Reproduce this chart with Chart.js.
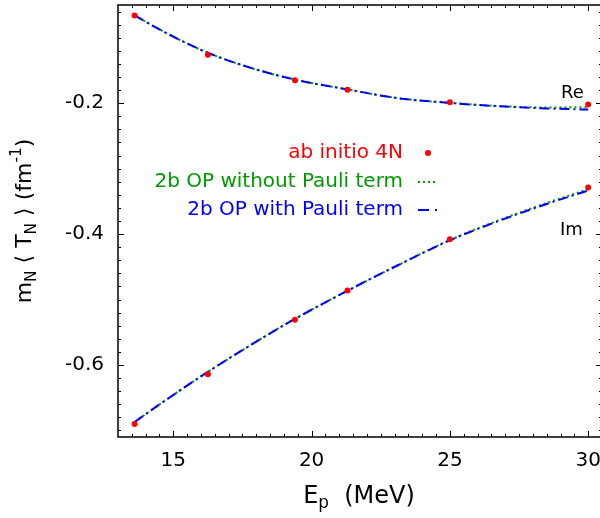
<!DOCTYPE html>
<html>
<head>
<meta charset="utf-8">
<script src="https://cdn.jsdelivr.net/npm/chart.js@4/dist/chart.umd.min.js"></script>
<style>
  html, body { margin: 0; padding: 0; background: #fff; overflow: hidden; width: 600px; height: 518px; }
  canvas { display: block; }
</style>
</head>
<body>
<canvas id="c" width="606" height="518"></canvas>
<script>
// ab initio 4N results: proton energy (MeV) and m_N <T_N> (fm^-1)
const energies   = [13.6, 16.25, 19.4, 21.3, 25.0, 30.0];
const reAbInitio = [-0.066, -0.126, -0.165, -0.1795, -0.1985, -0.202];
const imAbInitio = [-0.690, -0.614, -0.531, -0.486, -0.408, -0.329];

// two-body optical potential curves
const curveEnergies = [13.6, 14.8, 16.25, 17.8, 19.4, 21.3, 23.1, 25.0, 26.7, 28.5, 30.0];
const reNoPauli     = [-0.066, -0.094, -0.123, -0.146, -0.164, -0.179, -0.1922, -0.1995, -0.2042, -0.2066, -0.2060];
const reWithPauli   = [-0.066, -0.094, -0.123, -0.146, -0.164, -0.179, -0.1922, -0.1996, -0.2046, -0.2080, -0.2098];
const imNoPauli     = [-0.687, -0.6515, -0.6105, -0.5695, -0.5295, -0.4865, -0.448, -0.409, -0.380, -0.3525, -0.3315];
const imWithPauli   = [-0.687, -0.6515, -0.6105, -0.5695, -0.5295, -0.4865, -0.448, -0.4095, -0.381, -0.354, -0.3335];

// axis ticks
const xTicks = [15, 20, 25, 30];
const xTickLabels = ['15', '20', '25', '30'];
const yTicks = [-0.6, -0.4, -0.2];
const yTickLabels = ['-0.6', '-0.4', '-0.2'];

// legend entries
const seriesNames = ['ab initio 4N', '2b OP without Pauli term', '2b OP with Pauli term'];

const RED = '#ff0000', GREEN = '#009a00', BLUE = '#0000ff';
const FONT = '"DejaVu Sans", "Liberation Sans", sans-serif';

const pts = (xs, ys) => xs.map((x, i) => ({ x: x, y: ys[i] }));

const curveStyle = {
  showLine: true, pointRadius: 0, borderWidth: 2, fill: false,
  cubicInterpolationMode: 'monotone', borderCapStyle: 'butt'
};

// draws a run of text pieces (with sub/superscripts) along a baseline
function drawRich(ctx, parts, x, y, base, align) {
  const widths = parts.map(p => {
    ctx.font = (p.scale ? base * p.scale : base) + 'px ' + FONT;
    return ctx.measureText(p.t).width;
  });
  const total = widths.reduce((a, b) => a + b, 0);
  let cx = align === 'center' ? x - total / 2 : x;
  parts.forEach((p, i) => {
    ctx.font = (p.scale ? base * p.scale : base) + 'px ' + FONT;
    ctx.fillText(p.t, cx, y + (p.dy || 0) * base);
    cx += widths[i];
  });
}

const decorations = {
  id: 'decorations',
  afterDraw(chart) {
    const ctx = chart.ctx;
    const a = chart.chartArea;
    const xs = chart.scales.x, ys = chart.scales.y;
    ctx.save();

    // frame
    ctx.strokeStyle = '#000';
    ctx.lineWidth = 1.5;
    ctx.strokeRect(a.left, a.top, a.right - a.left, a.bottom - a.top);

    // inward ticks on all four sides, mirrored
    ctx.lineWidth = 1;
    ctx.beginPath();
    const tickX = (v, len) => {
      const px = Math.round(xs.getPixelForValue(v)) + 0.5;
      ctx.moveTo(px, a.bottom); ctx.lineTo(px, a.bottom - len);
      ctx.moveTo(px, a.top); ctx.lineTo(px, a.top + len);
    };
    const tickY = (v, len) => {
      const py = Math.round(ys.getPixelForValue(v)) + 0.5;
      ctx.moveTo(a.left, py); ctx.lineTo(a.left + len, py);
      ctx.moveTo(a.right, py); ctx.lineTo(a.right - len, py);
    };
    for (let v = 13.5; v <= xs.max; v += 0.5) {
      tickX(v, xTicks.includes(v) ? 6 : 3);
    }
    for (let k = -35; k <= -3; k++) {
      const v = k * 0.02;
      const major = yTicks.some(t => Math.abs(t - v) < 1e-9);
      tickY(v, major ? 6 : 3);
    }
    ctx.stroke();

    // axis titles
    ctx.fillStyle = '#000';
    ctx.textBaseline = 'alphabetic';
    drawRich(ctx, [
      { t: 'E' }, { t: 'p', scale: 0.7, dy: 0.22 }, { t: '  (MeV)' }
    ], 359, 503, 24, 'center');

    ctx.save();
    ctx.translate(31, (a.top + a.bottom) / 2);
    ctx.rotate(-Math.PI / 2);
    drawRich(ctx, [
      { t: 'm' }, { t: 'N', scale: 0.7, dy: 0.22 }, { t: ' \u27E8 T' },
      { t: 'N', scale: 0.7, dy: 0.22 }, { t: ' \u27E9 (fm' },
      { t: '-1', scale: 0.7, dy: -0.45 }, { t: ')' }
    ], 0, 0, 22, 'center');
    ctx.restore();

    // Re / Im labels
    ctx.font = '18px ' + FONT;
    ctx.textAlign = 'left';
    ctx.fillText('Re', 561, 98);
    ctx.fillText('Im', 560, 235);

    // legend
    ctx.font = '20px ' + FONT;
    ctx.textAlign = 'right';
    ctx.textBaseline = 'middle';
    const rows = [153, 182, 210];
    const colors = [RED, GREEN, BLUE];
    seriesNames.forEach((name, i) => {
      ctx.fillStyle = colors[i];
      ctx.fillText(name, 403, rows[i]);
    });
    ctx.fillStyle = RED;
    ctx.beginPath();
    ctx.arc(428, rows[0], 3, 0, Math.PI * 2);
    ctx.fill();
    ctx.lineWidth = 2;
    ctx.lineCap = 'butt';
    ctx.strokeStyle = GREEN;
    ctx.setLineDash([2, 3]);
    ctx.beginPath(); ctx.moveTo(418, rows[1]); ctx.lineTo(438, rows[1]); ctx.stroke();
    ctx.strokeStyle = BLUE;
    ctx.setLineDash([11, 6, 2, 6]);
    ctx.beginPath(); ctx.moveTo(418, rows[2]); ctx.lineTo(438, rows[2]); ctx.stroke();
    ctx.restore();
  }
};

new Chart(document.getElementById('c'), {
  type: 'scatter',
  data: {
    datasets: [
      {
        label: seriesNames[0],
        data: pts(energies, reAbInitio).concat(pts(energies, imAbInitio)),
        pointRadius: 3, pointBackgroundColor: RED, pointBorderWidth: 0,
        showLine: false, order: 0
      },
      Object.assign({ label: seriesNames[2], data: pts(curveEnergies, reWithPauli),
        borderColor: BLUE, borderDash: [10, 4, 2, 4], order: 1 }, curveStyle),
      Object.assign({ label: seriesNames[2], data: pts(curveEnergies, imWithPauli),
        borderColor: BLUE, borderDash: [10, 4, 2, 4], order: 1 }, curveStyle),
      Object.assign({ label: seriesNames[1], data: pts(curveEnergies, reNoPauli),
        borderColor: GREEN, borderDash: [2, 3], order: 2 }, curveStyle),
      Object.assign({ label: seriesNames[1], data: pts(curveEnergies, imNoPauli),
        borderColor: GREEN, borderDash: [2, 3], order: 2 }, curveStyle)
    ]
  },
  options: {
    responsive: false,
    animation: false,
    devicePixelRatio: 1,
    layout: { padding: { top: 5, left: 0, right: 0, bottom: 0 } },
    plugins: { legend: { display: false }, tooltip: { enabled: false } },
    scales: {
      x: {
        type: 'linear', min: 13, max: 30.5,
        afterBuildTicks: s => { s.ticks = xTicks.map(v => ({ value: v })); },
        afterFit: s => { s.height = 81; s.paddingLeft = 0; s.paddingRight = 0; },
        grid: { display: false, drawTicks: false },
        border: { display: false },
        ticks: {
          autoSkip: false, maxRotation: 0, color: '#000', padding: 12,
          font: { family: FONT, size: 20 },
          callback: (v, i) => xTickLabels[i]
        }
      },
      y: {
        type: 'linear', min: -0.71, max: -0.05,
        afterBuildTicks: s => { s.ticks = yTicks.map(v => ({ value: v })); },
        afterFit: s => { s.width = 118; s.paddingTop = 0; s.paddingBottom = 0; },
        grid: { display: false, drawTicks: false },
        border: { display: false },
        ticks: {
          autoSkip: false, color: '#000', padding: 14,
          font: { family: FONT, size: 20 },
          callback: (v, i) => yTickLabels[i]
        }
      }
    }
  },
  plugins: [decorations]
});
</script>
</body>
</html>
